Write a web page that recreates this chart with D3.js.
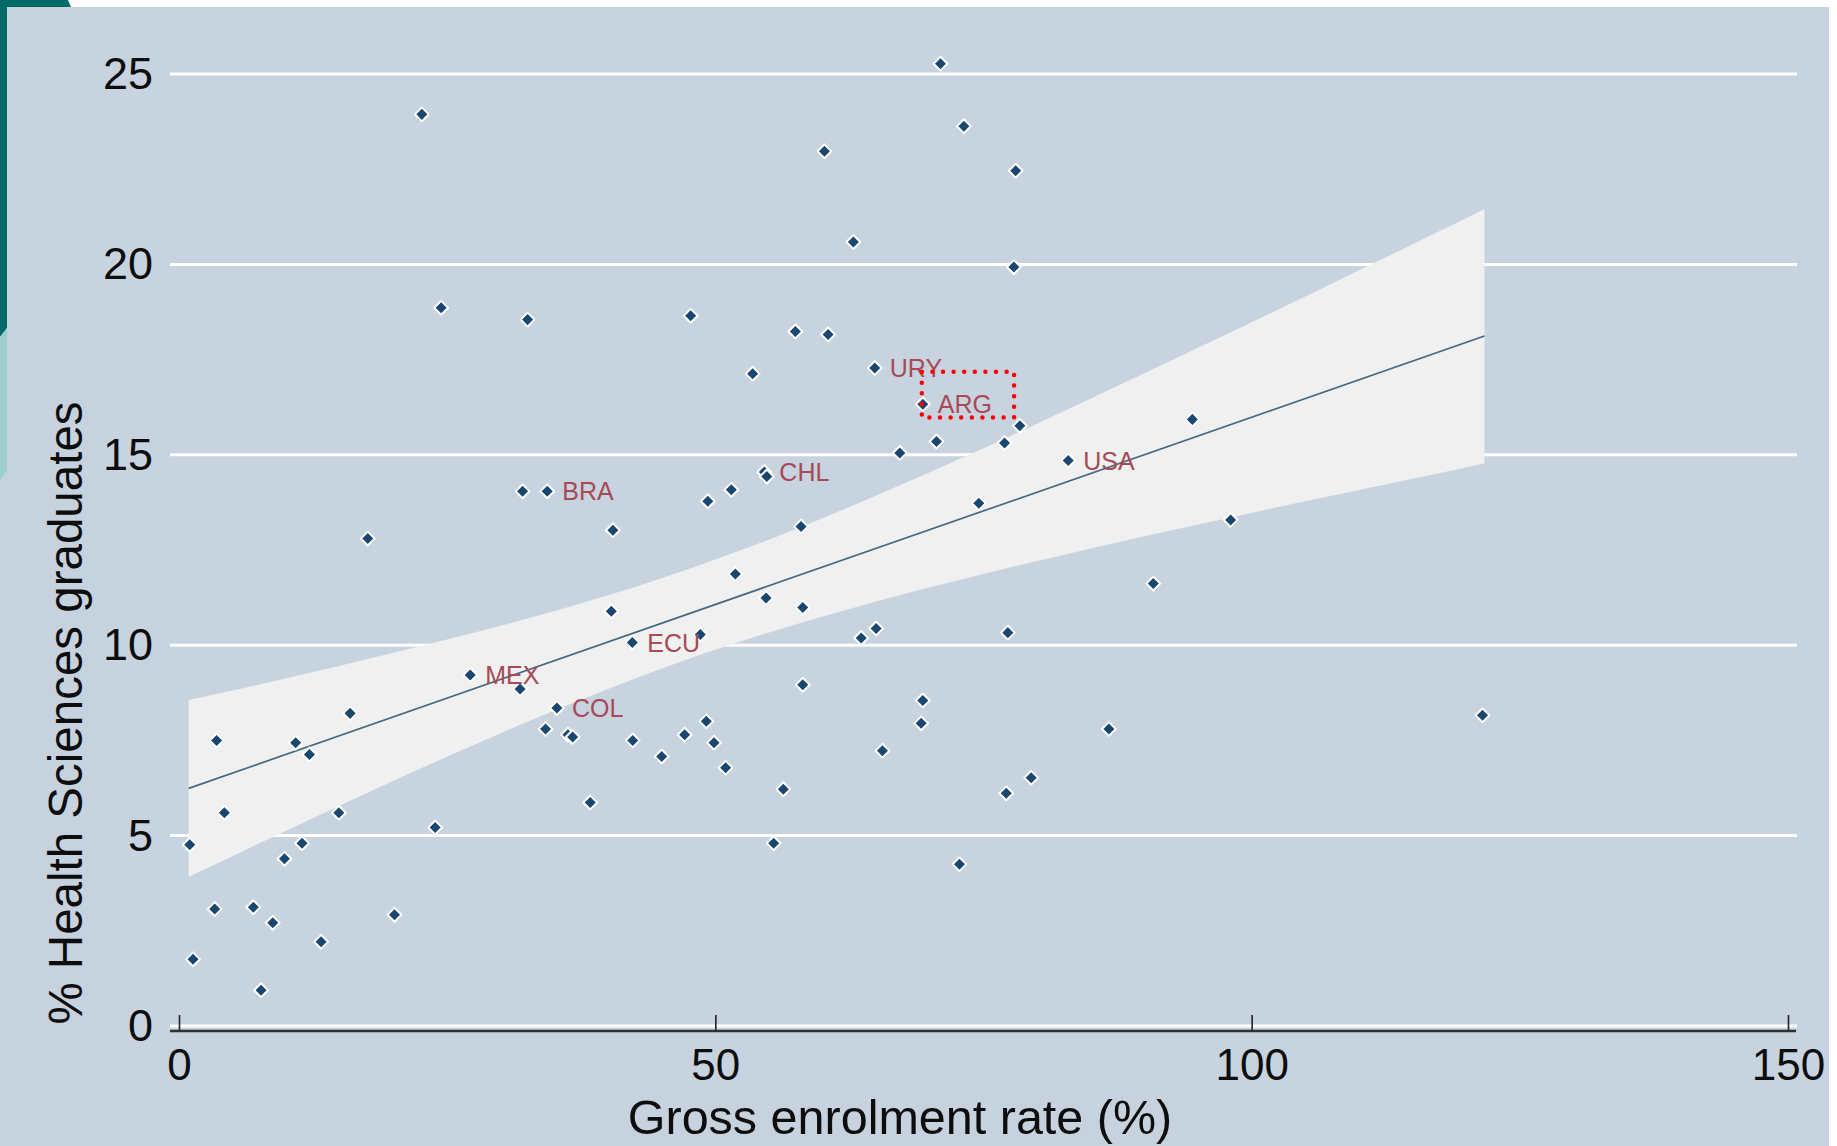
<!DOCTYPE html>
<html><head><meta charset="utf-8">
<script src="https://cdn.jsdelivr.net/npm/d3@7"></script>
<style>html,body{margin:0;padding:0;background:#fff;} svg{display:block;}</style>
</head><body><svg id="chart" width="1837" height="1146"></svg>
<script>
// ---- data ----
const enrolment = [1.0,1.31,3.51,3.33,4.23,6.93,7.65,8.74,9.83,10.88,11.47,12.16,13.25,14.9,15.95,17.6,20.09,22.64,23.88,24.44,27.15,31.8,32.03,32.5,34.33,34.17,35.23,36.26,36.7,38.34,40.3,40.45,42.26,42.3,45.0,47.14,47.7,48.6,49.16,49.3,49.88,50.96,51.49,51.87,53.48,54.57,54.8,54.73,55.44,56.34,57.46,57.99,58.15,58.15,60.17,60.51,62.87,63.6,64.86,64.99,65.58,67.2,69.34,69.19,69.34,70.62,70.99,72.76,73.17,74.56,76.96,77.12,77.27,77.83,78.0,78.39,79.45,82.9,86.69,90.83,94.47,98.04,121.52];
const healthShare = [4.76,1.75,7.5,3.07,5.6,3.12,0.94,2.71,4.39,7.44,4.8,7.13,2.21,5.6,8.21,12.8,2.92,23.94,5.21,18.86,9.22,8.85,14.04,18.55,14.04,7.8,8.35,7.65,7.59,5.87,10.89,13.02,10.07,7.5,7.08,7.65,18.65,10.28,8.0,13.78,7.44,6.78,14.08,11.87,17.13,14.55,14.43,11.24,4.8,6.22,18.24,13.12,10.99,8.96,22.97,18.16,20.59,10.19,17.28,10.44,7.23,15.05,8.55,7.95,16.33,15.35,25.27,4.25,23.63,13.73,15.31,6.11,10.33,19.93,22.46,15.76,6.52,14.85,7.8,11.62,15.93,13.29,8.16];
const countryCode = ["","","","","","","","","","","","","","","","","","","","","MEX","","","","BRA","","COL","","","","","","ECU","","","","","","","","","","","","","CHL","","","","","","","","","","","","","URY","","","","","","ARG","","","","","","","","","","","","","USA","","","","",""];
const xTicks = [0, 50, 100, 150];
const yTicks = [0, 5, 10, 15, 20, 25];
const fitX = [0.9, 121.7];
const fitY = [6.24, 18.12];
const bandX    = [0.9, 10, 20, 30, 40, 48, 56, 65, 75, 85, 95, 105, 115, 121.7];
const bandLow  = [3.92, 5.13, 6.44, 7.69, 8.85, 9.69, 10.42, 11.15, 11.87, 12.54, 13.17, 13.78, 14.37, 14.77];
const bandHigh = [8.56, 9.13, 9.80, 10.51, 11.31, 12.05, 12.88, 13.93, 15.17, 16.48, 17.81, 19.16, 20.53, 21.45];
const highlightX = [69.25, 77.85];
const highlightY = [15.98, 17.18];
const xTitle = "Gross enrolment rate (%)";
const yTitle = "% Health Sciences graduates";

// ---- layout ----
const svg = d3.select("#chart");
const FONT = "'Liberation Sans', Arial, Helvetica, sans-serif";
const x = d3.scaleLinear().domain([0, 150]).range([179, 1788]);
const y = d3.scaleLinear().domain([0, 25]).range([1026, 74]);
const gridL = 170, gridR = 1797;

// backgrounds
svg.append("rect").attr("x", 0).attr("y", 0).attr("width", 1837).attr("height", 1146).attr("fill", "#ffffff");
svg.append("rect").attr("x", 0).attr("y", 7).attr("width", 1829).attr("height", 1139).attr("fill", "#c6d2de");
svg.append("rect").attr("x", 97).attr("y", 7).attr("width", 1725).attr("height", 1081).attr("fill", "#c7d3df");
// slide decoration top-left
svg.append("polygon").attr("points", "0,0 68,0 71,7 7,7 7,328 0,337").attr("fill", "#006a6a");
svg.append("polygon").attr("points", "0,337 7,328 7,470 0,481").attr("fill", "#9ccece");

// gridlines
svg.append("g").selectAll("line").data(yTicks).join("line")
  .attr("x1", gridL).attr("x2", gridR)
  .attr("y1", d => y(d)).attr("y2", d => y(d))
  .attr("stroke", "#ffffff").attr("stroke-width", 3);

// CI band
const idx = d3.range(bandX.length);
svg.append("path")
  .attr("d", d3.area().curve(d3.curveMonotoneX)
    .x(i => x(bandX[i])).y0(i => y(bandLow[i])).y1(i => y(bandHigh[i]))(idx))
  .attr("fill", "#f0f0f0");

// fit line
svg.append("path")
  .attr("d", d3.line().x(i => x(fitX[i])).y(i => y(fitY[i]))(d3.range(fitX.length)))
  .attr("fill", "none").attr("stroke", "#44697d").attr("stroke-width", 1.7);

// x axis
const xAxis = svg.append("g").attr("transform", "translate(0,1031)")
  .call(d3.axisBottom(x).tickValues(xTicks).tickSizeInner(-16).tickSizeOuter(0).tickPadding(18));
xAxis.select(".domain").remove();
xAxis.selectAll(".tick line").attr("stroke", "#222").attr("stroke-width", 1.6);
xAxis.selectAll(".tick text").attr("font-family", FONT).attr("font-size", 44).attr("fill", "#0d0d0d");
svg.append("line").attr("x1", gridL).attr("x2", gridR - 1).attr("y1", 1031).attr("y2", 1031)
  .attr("stroke", "#2e2e2e").attr("stroke-width", 2.5);

// y axis labels
const yAxis = svg.append("g").attr("transform", "translate(" + gridL + ",0)")
  .call(d3.axisLeft(y).tickValues(yTicks).tickSize(0).tickPadding(17));
yAxis.select(".domain").remove();
yAxis.selectAll(".tick text").attr("font-family", FONT).attr("font-size", 45).attr("fill", "#0d0d0d");

// points
const pts = d3.range(enrolment.length);
const sym = d3.symbol(d3.symbolSquare, 96)();
svg.append("g").selectAll("path").data(pts).join("path")
  .attr("d", sym)
  .attr("transform", i => "translate(" + x(enrolment[i]) + "," + y(healthShare[i]) + ") rotate(45)")
  .attr("fill", "#1a476f").attr("stroke", "#ffffff").attr("stroke-width", 2).attr("stroke-linejoin", "round");

// labels
svg.append("g").selectAll("text").data(pts.filter(i => countryCode[i] !== "")).join("text")
  .attr("x", i => x(enrolment[i]) + 15).attr("y", i => y(healthShare[i]))
  .attr("dy", "0.36em")
  .attr("font-family", FONT).attr("font-size", 25).attr("fill", "#a84a56")
  .text(i => countryCode[i]);

// highlight box
svg.append("rect")
  .attr("x", x(highlightX[0])).attr("y", y(highlightY[1]))
  .attr("width", x(highlightX[1]) - x(highlightX[0])).attr("height", y(highlightY[0]) - y(highlightY[1]))
  .attr("fill", "none").attr("stroke", "#ff0000").attr("stroke-width", 4.5)
  .attr("stroke-dasharray", "0 10.6").attr("stroke-linecap", "round");

// titles
svg.append("text").attr("x", 900).attr("y", 1134).attr("text-anchor", "middle")
  .attr("font-family", FONT).attr("font-size", 48.5).attr("fill", "#0d0d0d").text(xTitle);
svg.append("text").attr("transform", "translate(82,713) rotate(-90)").attr("text-anchor", "middle")
  .attr("font-family", FONT).attr("font-size", 47.5).attr("fill", "#0d0d0d").text(yTitle);
</script>
</body></html>
